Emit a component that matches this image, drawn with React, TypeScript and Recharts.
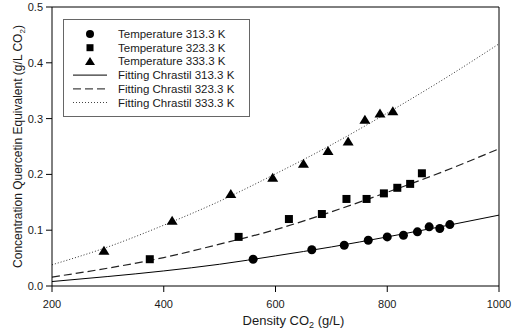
import {
  ComposedChart,
  Line,
  Scatter,
  XAxis,
  YAxis,
  ReferenceLine,
  Label,
} from 'recharts';

// experimental points (density g/L, concentration g/L CO2)
const density313 = [560, 665, 723, 766, 800, 829, 854, 875, 894, 912];
const conc313 = [0.048, 0.065, 0.073, 0.082, 0.088, 0.091, 0.097, 0.106, 0.103, 0.11];

const density323 = [375, 534, 624, 683, 727, 763, 794, 818, 841, 862];
const conc323 = [0.048, 0.088, 0.12, 0.129, 0.156, 0.156, 0.166, 0.176, 0.183, 0.202];

const density333 = [293, 415, 520, 595, 650, 694, 730, 760, 787, 810];
const conc333 = [0.063, 0.117, 0.165, 0.194, 0.219, 0.242, 0.259, 0.298, 0.309, 0.313];

// Chrastil fitted curves
const fitDensity = [200, 300, 400, 500, 600, 700, 800, 900, 1000];
const fit313 = [0.008, 0.017, 0.027, 0.039, 0.054, 0.07, 0.088, 0.107, 0.127];
const fit323 = [0.016, 0.032, 0.051, 0.075, 0.101, 0.133, 0.168, 0.205, 0.246];
const fit333 = [0.038, 0.07, 0.109, 0.152, 0.201, 0.253, 0.31, 0.37, 0.434];

const xTicks = [200, 400, 600, 800, 1000];
const yTicks = [0, 0.1, 0.2, 0.3, 0.4, 0.5];

const legendLabels = [
  'Temperature 313.3 K',
  'Temperature 323.3 K',
  'Temperature 333.3 K',
  'Fitting Chrastil 313.3 K',
  'Fitting Chrastil 323.3 K',
  'Fitting Chrastil 333.3 K',
];

const FONT = '"Liberation Sans", Arial, sans-serif';
const TEXT = '#1a1a1a';

const zip = (xs: number[], ys: number[]) => xs.map((x, i) => ({ x, y: ys[i] }));

const pts313 = zip(density313, conc313);
const pts323 = zip(density323, conc323);
const pts333 = zip(density333, conc333);
const line313 = zip(fitDensity, fit313);
const line323 = zip(fitDensity, fit323);
const line333 = zip(fitDensity, fit333);

const CircleShape = (p: any) => <circle cx={p.cx} cy={p.cy} r={4.5} fill="#000" />;
const SquareShape = (p: any) => <rect x={p.cx - 4} y={p.cy - 4} width={8} height={8} fill="#000" />;
const TriangleShape = (p: any) => (
  <polygon points={`${p.cx},${p.cy - 5} ${p.cx - 5.5},${p.cy + 4} ${p.cx + 5.5},${p.cy + 4}`} fill="#000" />
);

// legend icons, drawn around a row centre
const legendIcon = (i: number, y: number) => {
  const cx = 27;
  switch (i) {
    case 0:
      return <circle cx={cx} cy={y} r={4} fill="#000" />;
    case 1:
      return <rect x={cx - 3.5} y={y - 3.5} width={7} height={7} fill="#000" />;
    case 2:
      return <polygon points={`${cx},${y - 4.5} ${cx - 5},${y + 3.5} ${cx + 5},${y + 3.5}`} fill="#000" />;
    case 3:
      return <line x1={10} y1={y} x2={44} y2={y} stroke="#000" strokeWidth={1} />;
    case 4:
      return <line x1={10} y1={y} x2={44} y2={y} stroke="#444" strokeWidth={1.2} strokeDasharray="8 4" />;
    default:
      return <line x1={10} y1={y} x2={44} y2={y} stroke="#444" strokeWidth={1} strokeDasharray="1 2" />;
  }
};

// legend drawn inside the chart svg
function LegendBox() {
  const w = 187;
  const h = 98;
  return (
    <g className="legend-box" transform="translate(63, 19)">
      <rect x={0.5} y={0.5} width={w - 1} height={h - 1} fill="#fff" stroke="#666" strokeWidth={1} />
      {legendLabels.map((label, i) => {
        const y = 15 + i * 13.7;
        return (
          <g key={label}>
            {legendIcon(i, y)}
            <text x={55} y={y + 4} fontFamily={FONT} fontSize={11.5} fill={TEXT}>
              {label}
            </text>
          </g>
        );
      })}
    </g>
  );
}

const YTitle = (props: any) => {
  const vb = props.viewBox;
  const cy = vb.y + vb.height / 2;
  const x = 22;
  return (
    <text
      x={x}
      y={cy}
      transform={`rotate(-90, ${x}, ${cy})`}
      textAnchor="middle"
      fontFamily={FONT}
      fontSize={12}
      fill={TEXT}
    >
      Concentration Quercetin Equivalent (g/L CO
      <tspan fontSize={8} dy={3}>2</tspan>
      <tspan dy={-3}>)</tspan>
    </text>
  );
};

const XTitle = (props: any) => {
  const vb = props.viewBox;
  const cx = vb.x + vb.width / 2 + 18;
  return (
    <text x={cx} y={325} textAnchor="middle" fontFamily={FONT} fontSize={13} fill={TEXT}>
      Density CO
      <tspan fontSize={9} dy={3}>2</tspan>
      <tspan dy={-3}> (g/L)</tspan>
    </text>
  );
};

export default function App() {
  return (
    <div style={{ position: 'absolute', left: 0, top: 0, width: 512, height: 330, background: '#fff' }}>
      <ComposedChart width={512} height={330} margin={{ top: 7, right: 13, bottom: 0, left: 0 }}>
        <XAxis
          type="number"
          dataKey="x"
          domain={[200, 1000]}
          ticks={xTicks}
          allowDataOverflow
          height={44}
          stroke="#000"
          tickSize={6}
          tickMargin={8}
          tick={{ fontFamily: FONT, fontSize: 11, fill: TEXT }}
        >
          <Label content={XTitle} />
        </XAxis>
        <YAxis
          type="number"
          dataKey="y"
          domain={[0, 0.5]}
          ticks={yTicks}
          tickFormatter={(v: number) => v.toFixed(1)}
          allowDataOverflow
          width={52}
          stroke="#000"
          tickSize={6}
          tickMargin={3}
          tick={{ fontFamily: FONT, fontSize: 11, fill: TEXT }}
        >
          <Label content={YTitle} />
        </YAxis>
        <ReferenceLine y={0.5} stroke="#000" strokeWidth={1} ifOverflow="visible" />
        <ReferenceLine x={1000} stroke="#000" strokeWidth={1} ifOverflow="visible" />
        <Line data={line313} dataKey="y" type="monotone" stroke="#000" strokeWidth={1} dot={false} isAnimationActive={false} />
        <Line data={line323} dataKey="y" type="monotone" stroke="#222" strokeWidth={1.2} strokeDasharray="8 4" dot={false} isAnimationActive={false} />
        <Line data={line333} dataKey="y" type="monotone" stroke="#333" strokeWidth={1} strokeDasharray="1 2" dot={false} isAnimationActive={false} />
        <Scatter data={pts313} dataKey="y" shape={CircleShape} isAnimationActive={false} />
        <Scatter data={pts323} dataKey="y" shape={SquareShape} isAnimationActive={false} />
        <Scatter data={pts333} dataKey="y" shape={TriangleShape} isAnimationActive={false} />
        <LegendBox />
      </ComposedChart>
    </div>
  );
}
